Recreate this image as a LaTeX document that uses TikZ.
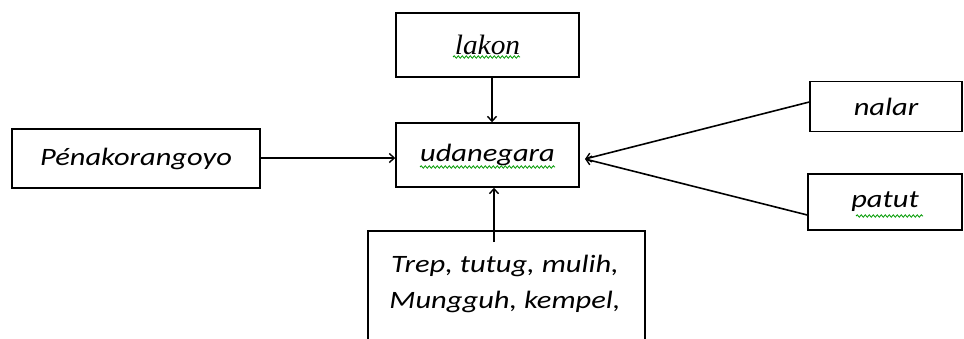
\documentclass[tikz,border=0pt]{standalone}
\usepackage{fontspec}
\setmainfont[FakeStretch=1.22]{Carlito}
\newfontfamily\lakonfont[FakeStretch=1.05]{Liberation Serif}
\usetikzlibrary{arrows.meta,decorations.pathmorphing}
\tikzset{
  box/.style={draw, line width=1.4pt, inner sep=0pt, align=center,
    font=\fontsize{25}{36}\selectfont\itshape},
  conn/.style={line width=1.6pt, -{Straight Barb[length=5pt,width=9pt,line width=1.4pt]}},
  squig/.style={draw=green!60!black, line width=0.8pt,
    decorate, decoration={snake, amplitude=1.2pt, segment length=4pt}}
}
\begin{document}
\begin{tikzpicture}[x=1pt,y=-1pt]
\useasboundingbox (0,0) rectangle (964,338);
\node[box, minimum width=183pt, minimum height=64pt] (lakon) at (487.5,45) {\lakonfont\fontsize{28}{30}\selectfont\itshape lakon};
\node[box, minimum width=183pt, minimum height=64pt] (udan) at (487.5,155) {udanegara};
\node[box, minimum width=248pt, minimum height=59pt] (pena) at (136,158.5) {Pénakorangoyo};
\node[box, minimum width=152pt, minimum height=50pt] (nalar) at (886,106.5) {nalar};
\node[box, minimum width=154pt, minimum height=56pt] (patut) at (885,202) {patut};
% bottom box, cut by the lower edge
\coordinate (bl) at (368,345);
\coordinate (br) at (645,345);
\draw[line width=1.4pt] (bl) |- (506.5,231) coordinate (btop) -| (br);
\node[font=\fontsize{25}{36}\selectfont\itshape, align=center, anchor=base] (trep) at (505,308) {Trep, tutug, mulih,\\Mungguh, kempel,};
\coordinate (bstart) at (494,242);
\coordinate (ntip) at (585,159);
% squiggles
\draw[squig] (453,57) -- (520,57);
\draw[squig] (420,167) -- (555,167);
\draw[squig] (856,216) -- (923,216);
% connectors
\draw[conn] (lakon.south -| 492,0) -- (udan.north -| 492,0);
\draw[conn] (pena.east |- 0,158) -- (udan.west |- 0,158);
\draw[conn] (bstart) -- (udan.south -| bstart);
\draw[conn] (nalar.west |- 0,102) -- (ntip);
\draw[conn] (patut.west |- 0,215) -- (ntip);
\end{tikzpicture}
\end{document}
